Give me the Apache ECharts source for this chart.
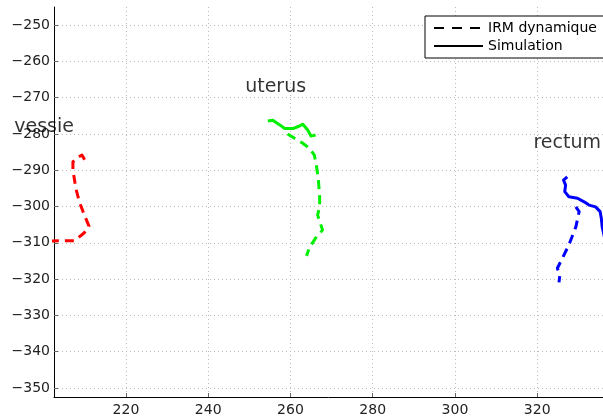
<!DOCTYPE html>
<html>
<head>
<meta charset="utf-8">
<script src="https://cdn.jsdelivr.net/npm/echarts@6/dist/echarts.min.js"></script>
<style>
html,body{margin:0;padding:0;background:#fff;}
#chart{width:603px;height:418px;}
</style>
</head>
<body>
<div id="chart"></div>
<script>
// ---- Data ----
const vessieIRM = [[201.5,-309.5],[207.6,-309.4],[209.8,-307.3],[211.0,-305.4],[209.8,-302.1],[208.6,-298.5],[207.8,-294.9],[207.1,-289.9],[207.1,-287.7],[208.1,-286.6],[209.3,-285.8],[210.0,-287.2],[210.8,-288.3]];
const uterusSim = [[254.5,-276.4],[255.7,-276.2],[257.4,-277.5],[258.6,-278.5],[260.6,-278.5],[262.2,-277.8],[263.0,-277.3],[264.2,-278.9],[265.0,-280.6],[266.1,-280.3]];
const uterusIRM = [[259.3,-280.0],[261.0,-281.2],[262.9,-282.5],[264.6,-283.9],[265.8,-285.8],[266.3,-288.6],[266.8,-292.7],[267.1,-297.4],[267.1,-300.1],[266.6,-302.3],[267.8,-306.5],[266.1,-308.7],[264.6,-311.4],[263.9,-313.6]];
const rectumSim = [[327.3,-291.8],[326.4,-292.7],[326.9,-294.1],[326.7,-295.9],[327.7,-297.3],[329.8,-297.7],[331.4,-298.7],[332.6,-299.6],[334.2,-300.1],[335.3,-301.4],[335.6,-303.3],[335.8,-305.6],[336.5,-309.2]];
const rectumIRM = [[329.4,-300.1],[330.2,-301.4],[329.4,-305.6],[327.7,-310.6],[326.1,-314.3],[324.9,-317.0],[325.5,-318.9],[325.3,-320.9]];
const organLabels = [[200.1,-278.1,'vessie'],[256.4,-267.0,'uterus'],[327.3,-282.4,'rectum']];
const legendNames = ['IRM dynamique','Simulation'];
const xRange = [202.5, 336];
const yRange = [-352.5, -245];

const FONT = 'DejaVu Sans';
const dash = [9,6];
const fmt = v => String(v).replace('-', '\u2212');

function lineSeries(name, data, color, dashed) {
  return {
    type: 'line', name: name, data: data, symbol: 'none', silent: true,
    animation: false, smooth: false, clip: true,
    lineStyle: {color: color, width: 3, type: dashed ? dash : 'solid', cap: 'butt', join: 'round'}
  };
}

const chart = echarts.init(document.getElementById('chart'), null, {renderer: 'canvas'});
chart.setOption({
  backgroundColor: '#fff',
  animation: false,
  grid: {left: 54, top: 7, right: 0, bottom: 21, containLabel: false},
  legend: {
    data: legendNames, orient: 'vertical', left: 425, top: 16,
    padding: [5, 12, 5, 8], itemWidth: 49, itemHeight: 14, itemGap: 4,
    borderColor: '#000', borderWidth: 1, backgroundColor: '#fff', borderRadius: 0,
    itemStyle: {opacity: 0},
    textStyle: {fontFamily: FONT, fontSize: 14, color: '#000'},
    selectedMode: false
  },
  xAxis: {
    type: 'value', min: xRange[0], max: xRange[1], splitNumber: 7,
    axisLine: {show: true, lineStyle: {color: '#000', width: 1}},
    axisTick: {show: true, inside: true, length: 4, lineStyle: {color: '#666'}},
    axisLabel: {fontFamily: FONT, fontSize: 14, color: '#222', margin: 6,
      showMinLabel: false, showMaxLabel: false, formatter: fmt},
    splitLine: {show: true, showMinLine: false, showMaxLine: false,
      lineStyle: {color: '#bbb', width: 1, type: [1, 3]}}
  },
  yAxis: {
    type: 'value', min: yRange[0], max: yRange[1], splitNumber: 10,
    axisLine: {show: true, lineStyle: {color: '#000', width: 1}},
    axisTick: {show: true, inside: true, length: 4, lineStyle: {color: '#666'}},
    axisLabel: {fontFamily: FONT, fontSize: 14, color: '#222', margin: 4,
      showMinLabel: false, showMaxLabel: false, formatter: fmt},
    splitLine: {show: true, showMinLine: false, showMaxLine: false,
      lineStyle: {color: '#bbb', width: 1, type: [1, 3]}}
  },
  series: [
    // legend entries (black)
    {type: 'line', name: legendNames[0], data: [], symbol: 'none',
      lineStyle: {color: '#000', width: 3, type: [10, 8]}, itemStyle: {color: '#000'}},
    {type: 'line', name: legendNames[1], data: [], symbol: 'none',
      lineStyle: {color: '#000', width: 3, type: 'solid'}, itemStyle: {color: '#000'}},
    lineSeries('vessie IRM', vessieIRM, '#ff0000', true),
    lineSeries('uterus IRM', uterusIRM, '#00f000', true),
    lineSeries('uterus Sim', uterusSim, '#00f000', false),
    lineSeries('rectum IRM', rectumIRM, '#0000ff', true),
    lineSeries('rectum Sim', rectumSim, '#0000ff', false),
    {
      type: 'scatter', name: 'labels', data: organLabels, symbolSize: 0, clip: false, silent: true,
      z: 10,
      label: {show: true, position: 'inside', formatter: p => p.data[2],
        fontFamily: FONT, fontSize: 19, color: '#000'}
    }
  ]
});
</script>
</body>
</html>
